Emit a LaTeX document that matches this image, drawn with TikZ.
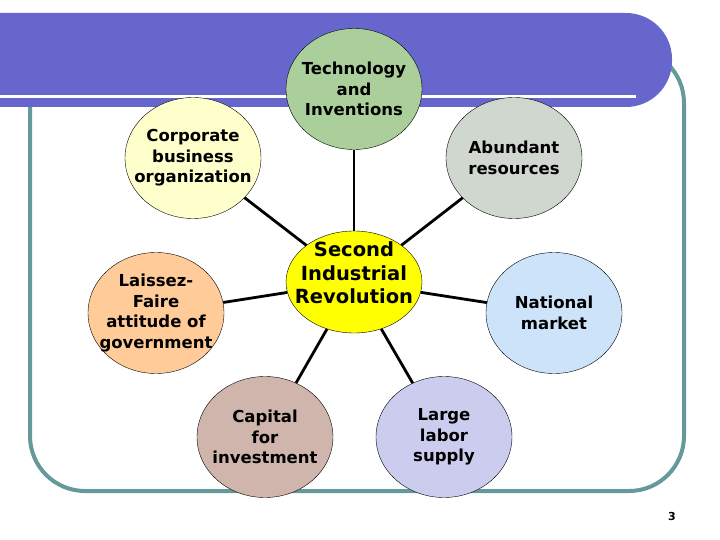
\documentclass[tikz,border=0pt]{standalone}
\usepackage{fontspec}
\setsansfont{DejaVu Sans}
\usepackage{tikz}
\usetikzlibrary{shapes.geometric}
\definecolor{cBanner}{HTML}{6666CC}
\definecolor{cFrame}{HTML}{669999}
\definecolor{cHub}{HTML}{FFFF00}
\definecolor{cTech}{HTML}{ABCF9B}
\definecolor{cCorp}{HTML}{FFFFCC}
\definecolor{cRes}{HTML}{D0D7CE}
\definecolor{cGov}{HTML}{FFCC99}
\definecolor{cMarket}{HTML}{CDE3FA}
\definecolor{cCapital}{HTML}{CFB5AB}
\definecolor{cLabor}{HTML}{CCCCEE}
\tikzset{
  bubble/.style={
    ellipse, draw=black, thin, fill=#1,
    minimum width=136pt, minimum height=121pt,
    inner xsep=-20pt, inner ysep=-5pt,
    align=center, font=\sffamily\bfseries\fontsize{16.5}{20.5}\selectfont
  },
  hub/.style={
    ellipse, draw=black, thin, fill=cHub,
    minimum width=136pt, minimum height=102pt, inner sep=0pt
  },
  hubtext/.style={align=center, font=\sffamily\bfseries\fontsize{19.5}{23.5}\selectfont},
  spoke/.style={line width=2.8pt, black},
}

\begin{document}
\begin{tikzpicture}[x=1pt, y=-1pt]

  % Page
  \fill[white] (0,0) rectangle (720,540);
  \useasboundingbox (0,0) rectangle (720,540);

  % Slide frame and title banner
  \draw[cFrame, line width=4pt, rounded corners=55pt] (30,48) rectangle (684,491);
  \fill[cBanner] (0,13) [rounded corners=46pt] -- (672,13) -- (672,107)
    [sharp corners] -- (0,107) -- cycle;
  \draw[white, line width=3pt] (0,97) -- (636,97);

  % Centre
  \node[hub] (rev) at (354,282) {};
  \node[hubtext] (revtxt) at ([yshift=9pt]rev.center)
    {Second\\Industrial\\Revolution};

  % Causes
  \node[bubble=cTech] (tech) at (354,89) {Technology\\and\\Inventions};
  \node[bubble=cCorp] (corp) at (193,158) {Corporate\\business\\organization};
  \node[bubble=cRes] (res) at (514,158) {Abundant\\resources};
  \node[bubble=cGov] (gov) at (156,313) {Laissez-\\Faire\\attitude of\\government};
  \node[bubble=cMarket] (market) at (554,313) {National\\market};
  \node[bubble=cCapital] (capital) at (265,437) {Capital\\for\\investment};
  \node[bubble=cLabor] (labor) at (444,437) {Large\\labor\\supply};

  % Spokes
  \foreach \n in {tech, corp, res, gov, market, capital, labor}
    \draw[spoke] (rev) -- (\n);

  % Slide number
  \node[font=\sffamily\bfseries\fontsize{11}{12}\selectfont] (pg) at (672,516) {3};

\end{tikzpicture}
\end{document}
